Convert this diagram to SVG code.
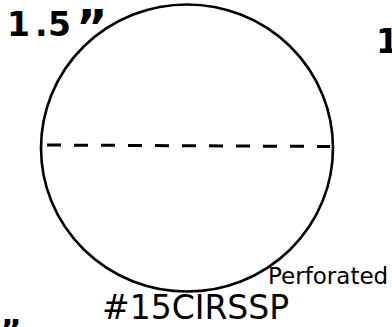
<svg xmlns="http://www.w3.org/2000/svg" width="392" height="327" viewBox="0 0 392 327">
<style>
.big{font-family:"DejaVu Sans","Verdana",sans-serif;font-weight:bold;font-size:33px;fill:#000}
.lbl{font-family:"DejaVu Sans","Verdana",sans-serif;fill:#000}
.shape{fill:none;stroke:#000;stroke-width:2.6}
.perf{fill:none;stroke:#000;stroke-width:3;stroke-dasharray:14 13}
</style>
<rect width="392" height="327" fill="#fff"/>
<g id="circle">
<ellipse class="shape" cx="187" cy="148" rx="146" ry="143.5"/>
</g>
<g id="connectors">
<line class="perf" x1="47" y1="145" x2="330" y2="146.5"/>
</g>
<g id="labels">
<text class="big" y="36" font-size="35"><tspan x="7">1</tspan><tspan x="35">.</tspan><tspan x="48">5</tspan><tspan x="76" y="44" font-size="48">”</tspan></text>
<text class="big" x="376" y="53">1.5”</text>
<text class="big" x="0" y="344" font-size="40">”</text>
<text class="lbl" x="268" y="284" font-size="23">Perforated</text>
<text class="lbl" x="102" y="319" font-size="33">#15CIRSSP</text>
</g>
</svg>
